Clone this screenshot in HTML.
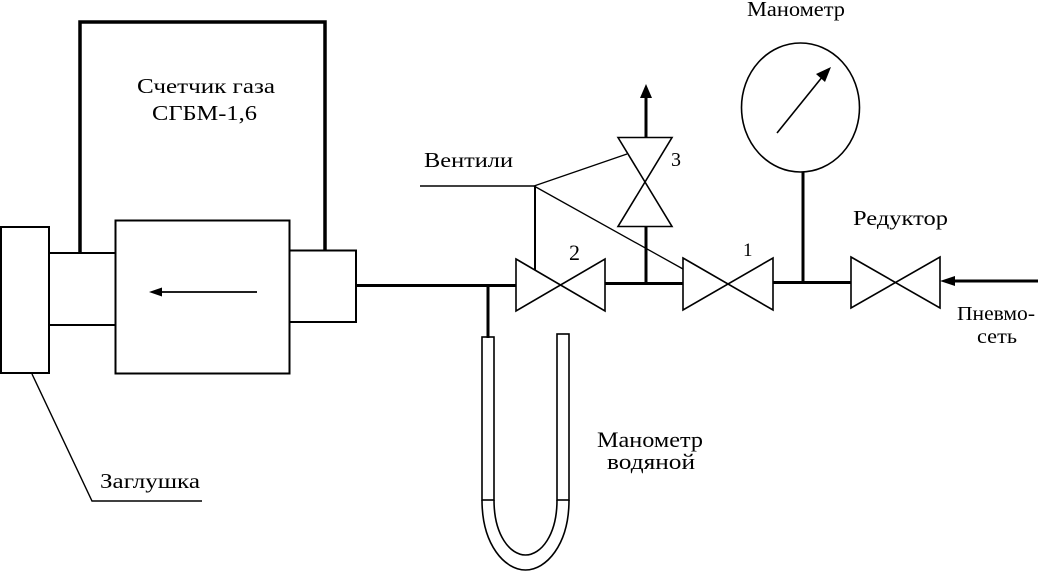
<!DOCTYPE html>
<html><head><meta charset="utf-8"><style>
html,body{margin:0;padding:0;background:#fff;}
svg{display:block;}
text{font-family:"Liberation Serif","DejaVu Serif",serif;fill:#000;}
</style></head><body>
<svg width="1038" height="571" viewBox="0 0 1038 571" xmlns="http://www.w3.org/2000/svg">
<g fill="none" stroke="#000" stroke-linecap="butt">
<!-- counter housing -->
<polyline points="80,252 80,22 325,22 325,251" stroke-width="3.5"/>
<!-- inner box -->
<rect x="115.5" y="220.5" width="174" height="153" stroke-width="2"/>
<!-- left pipe -->
<line x1="49" y1="253" x2="115" y2="253" stroke-width="2"/>
<line x1="49" y1="325" x2="115" y2="325" stroke-width="2"/>
<!-- plug -->
<rect x="1" y="227" width="48" height="146" stroke-width="2"/>
<!-- right piece -->
<polyline points="289,250.5 356,250.5 356,322 289,322" stroke-width="2"/>
<!-- arrow inside -->
<line x1="257" y1="292" x2="160" y2="292" stroke-width="1.8"/>
<!-- main pipe -->
<line x1="356" y1="285.5" x2="516" y2="285.5" stroke-width="3"/>
<line x1="488" y1="285" x2="488" y2="338" stroke-width="3"/>
<line x1="605" y1="283.5" x2="683" y2="283.5" stroke-width="3"/>
<line x1="646" y1="284" x2="646" y2="226" stroke-width="3"/>
<line x1="773" y1="282.5" x2="851" y2="282.5" stroke-width="3"/>
<line x1="803" y1="282" x2="803" y2="172" stroke-width="3"/>
<line x1="1038" y1="281" x2="952" y2="281" stroke-width="3"/>
<line x1="646" y1="138" x2="646" y2="96" stroke-width="3"/>
<!-- valves -->
<polygon points="516,259 605,311 605,259 516,311" stroke-width="1.6" stroke-linejoin="miter"/>
<polygon points="683,258 773,310 773,258 683,310" stroke-width="1.6"/>
<polygon points="851,257 940,308 940,257 851,308" stroke-width="1.6"/>
<polygon points="618,137.5 672,226.5 618,226.5 672,137.5" stroke-width="1.6"/>
<!-- leader lines Вентили -->
<line x1="420" y1="186" x2="534" y2="186" stroke-width="1.5"/>
<line x1="534" y1="186" x2="627" y2="154" stroke-width="1.3"/>
<line x1="535" y1="186" x2="535" y2="270" stroke-width="2"/>
<line x1="534" y1="186" x2="683" y2="269" stroke-width="1.3"/>
<!-- gauge -->
<ellipse cx="800.5" cy="107.5" rx="59" ry="64.5" stroke-width="1.6"/>
<line x1="777" y1="133" x2="823" y2="76" stroke-width="1.6"/>
<!-- Заглушка leader -->
<polyline points="32,374 92,501 202,501" stroke-width="1.4"/>
<!-- U-tube manometer -->
<rect x="482" y="337" width="12" height="163" stroke-width="1.6"/>
<rect x="557" y="334" width="12" height="166" stroke-width="1.6"/>
<path d="M482,500 C482,545 505,570 525.5,570 C546,570 569,545 569,500" stroke-width="1.6"/>
<path d="M494,500 C494,535 510,555 525.5,555 C541,555 557,535 557,500" stroke-width="1.6"/>
</g>
<g fill="#000" stroke="none">
<polygon points="149,292 162,287.5 162,296.5"/>
<polygon points="646,84 640,98 652,98"/>
<polygon points="831,67 816,74 825,82"/>
<polygon points="940,281 955,276 955,286"/>
</g>
<text x="137" y="93" font-size="21" textLength="138" lengthAdjust="spacingAndGlyphs">Счетчик газа</text>
<text x="152" y="120" font-size="21" textLength="105" lengthAdjust="spacingAndGlyphs">СГБМ-1,6</text>
<text x="747" y="16" font-size="21" textLength="98" lengthAdjust="spacingAndGlyphs">Манометр</text>
<text x="424" y="167" font-size="21" textLength="89" lengthAdjust="spacingAndGlyphs">Вентили</text>
<text x="569" y="260" font-size="22" textLength="11" lengthAdjust="spacingAndGlyphs">2</text>
<text x="743" y="256" font-size="19">1</text>
<text x="671" y="166" font-size="20" textLength="10" lengthAdjust="spacingAndGlyphs">3</text>
<text x="853" y="225" font-size="21" textLength="95" lengthAdjust="spacingAndGlyphs">Редуктор</text>
<text x="957" y="320" font-size="20" textLength="78" lengthAdjust="spacingAndGlyphs">Пневмо-</text>
<text x="977" y="343" font-size="20" textLength="40" lengthAdjust="spacingAndGlyphs">сеть</text>
<text x="597" y="447" font-size="22" textLength="106" lengthAdjust="spacingAndGlyphs">Манометр</text>
<text x="607" y="469" font-size="22" textLength="88" lengthAdjust="spacingAndGlyphs">водяной</text>
<text x="100" y="488" font-size="21" textLength="100" lengthAdjust="spacingAndGlyphs">Заглушка</text>
</svg>
</body></html>
